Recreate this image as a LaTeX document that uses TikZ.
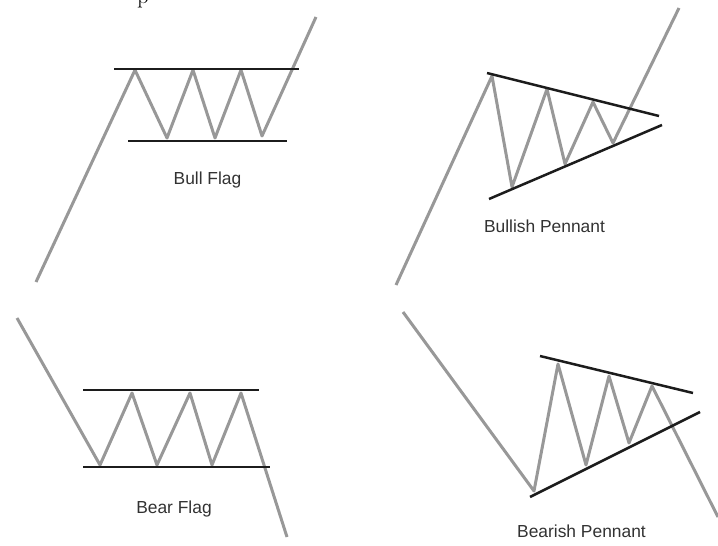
\documentclass[tikz,border=0pt]{standalone}
\usepackage{fontspec}
\newfontfamily\labelfont{Liberation Sans}
\usepackage{xcolor}
\definecolor{pricegray}{RGB}{152,152,152}
\definecolor{bandblack}{RGB}{28,28,28}
\definecolor{labelgray}{RGB}{50,50,50}
\usepackage{tikz}

\begin{document}
\begin{tikzpicture}[x=1pt, y=-1pt,
  price/.style={pricegray, line width=3pt, line join=round},
  band/.style={bandblack, line width=2.5pt},
  patlabel/.style={font=\labelfont\fontsize{17.4}{20}\selectfont, labelgray, anchor=base, inner sep=0pt}]
  \useasboundingbox (0,0) rectangle (718,546);

  % Cut-off letter at the top edge
  \node[anchor=base west, inner sep=0pt, font=\fontsize{23}{27}\selectfont] (toptext) at (137,3.5) {p};

  % --- Panel 1: Bull Flag ---
  \draw[price] (36,282) -- (135,70) -- (167,138) -- (193,70) -- (215,138) -- (241,70) -- (262,136) -- (316,17);
  \draw[band] (114,69) -- (299,69);
  \draw[band] (128,141) -- (287,141);
  \node[patlabel] (bullflag) at (207.5,184) {Bull Flag};

  % --- Panel 2: Bullish Pennant ---
  \draw[price] (396,285) -- (492,76) -- (512,187) -- (547,89) -- (565,164) -- (593,102) -- (613,143) -- (679,8);
  \draw[band] (487,73) -- (659,116);
  \draw[band] (489,199) -- (662,125);
  \node[patlabel] (bullpennant) at (544.5,232.5) {Bullish Pennant};

  % --- Panel 3: Bear Flag ---
  \draw[price] (17,318) -- (100,465) -- (132,393) -- (157,465) -- (190,393) -- (212,465) -- (241,393) -- (287,537);
  \draw[band] (83,390) -- (259,390);
  \draw[band] (83,467) -- (270,467);
  \node[patlabel] (bearflag) at (174,513) {Bear Flag};

  % --- Panel 4: Bearish Pennant ---
  \draw[price] (403,312) -- (534,491) -- (558,364) -- (586,465) -- (609,376) -- (629,443) -- (652,386) -- (718,517);
  \draw[band] (540,356) -- (693,393);
  \draw[band] (530,497) -- (700,412);
  \node[patlabel] (bearpennant) at (581.5,537) {Bearish Pennant};
\end{tikzpicture}
\end{document}
